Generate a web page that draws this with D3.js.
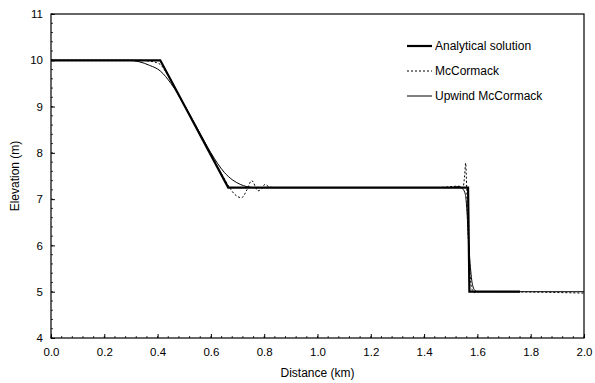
<!DOCTYPE html>
<html><head><meta charset="utf-8">
<script src="https://cdn.jsdelivr.net/npm/d3@7"></script>
<style>body{margin:0;background:#fff;}svg{display:block;font-family:"Liberation Sans",Arial,sans-serif;}</style>
</head><body><div id="chart"></div>
<script>
const xTicks = [0,0.2,0.4,0.6,0.8,1.0,1.2,1.4,1.6,1.8,2.0];
const yTicks = [4,5,6,7,8,9,10,11];
const seriesNames = ["Analytical solution","McCormack","Upwind McCormack"];

const analyticalX = [0, 0.41, 0.665, 1.565, 1.57, 1.76];
const analyticalY = [10, 10, 7.25, 7.25, 5, 5];

const mccormackX = [0, 0.33, 0.36, 0.39, 0.41, 0.44, 0.5, 0.6, 0.64, 0.67, 0.69, 0.715, 0.735, 0.753, 0.777, 0.79, 0.803, 0.82, 0.84, 1.45, 1.53, 1.545, 1.552, 1.556, 1.56, 1.565, 1.57, 1.575, 1.58, 1.59, 1.6, 1.65, 2.0];
const mccormackY = [10, 10, 9.99, 9.96, 9.91, 9.66, 9.03, 7.97, 7.55, 7.25, 7.1, 7.03, 7.2, 7.4, 7.18, 7.22, 7.32, 7.26, 7.25, 7.25, 7.28, 7.24, 7.5, 7.78, 7.2, 6.3, 5.6, 5.2, 5.05, 4.98, 5.0, 5.0, 4.97];

const upwindX = [0, 0.29, 0.33, 0.37, 0.41, 0.45, 0.5, 0.55, 0.6, 0.65, 0.68, 0.71, 0.735, 0.76, 1.5, 1.53, 1.545, 1.555, 1.56, 1.565, 1.57, 1.575, 1.58, 1.59, 1.6, 2.0];
const upwindY = [10, 10, 9.97, 9.89, 9.77, 9.5, 9.04, 8.52, 8.0, 7.58, 7.42, 7.32, 7.27, 7.25, 7.25, 7.27, 7.22, 7.1, 6.8, 6.3, 5.8, 5.45, 5.2, 5.03, 5.0, 5.0];

const W = 595, H = 383;
const svg = d3.select("#chart").append("svg").attr("width", W).attr("height", H);
const x = d3.scaleLinear().domain([0, 2]).range([51, 584]);
const y = d3.scaleLinear().domain([4, 11]).range([338, 14]);

// minor ticks
const xMinor = d3.range(0, 2.0001, 0.04);
const yMinor = d3.range(4, 11.0001, 0.2);
svg.append("g").selectAll("line").data(xMinor).join("line")
  .attr("x1", d => x(d)).attr("x2", d => x(d)).attr("y1", y(4)).attr("y2", y(4) - 2)
  .attr("stroke", "#000").attr("stroke-width", 0.8);
svg.append("g").selectAll("line").data(yMinor).join("line")
  .attr("y1", d => y(d)).attr("y2", d => y(d)).attr("x1", x(0)).attr("x2", x(0) + 2)
  .attr("stroke", "#000").attr("stroke-width", 0.8);

// axes (major ticks inside)
const xAxis = svg.append("g").attr("transform", `translate(0,${y(4)})`)
  .call(d3.axisBottom(x).tickValues(xTicks).tickFormat(d3.format(".1f")).tickSizeInner(-4).tickSizeOuter(0).tickPadding(10));
const yAxis = svg.append("g").attr("transform", `translate(${x(0)},0)`)
  .call(d3.axisLeft(y).tickValues(yTicks).tickFormat(d3.format("d")).tickSizeInner(-4).tickSizeOuter(0).tickPadding(8));
[xAxis, yAxis].forEach(g => {
  g.select(".domain").remove();
  g.selectAll("text").attr("font-size", 11.5).attr("font-family", '"Liberation Sans",Arial,sans-serif').attr("fill", "#000");
  g.selectAll("line").attr("stroke", "#000");
});

// frame
svg.append("rect").attr("x", x(0)).attr("y", y(11)).attr("width", x(2) - x(0)).attr("height", y(4) - y(11))
  .attr("fill", "none").attr("stroke", "#000").attr("stroke-width", 1.2);

// lines
const mk = (xs, ys) => xs.map((d, i) => [d, ys[i]]);
const lineLin = d3.line().x(d => x(d[0])).y(d => y(d[1]));
const lineSmooth = d3.line().x(d => x(d[0])).y(d => y(d[1])).curve(d3.curveMonotoneX);

svg.append("path").attr("d", lineSmooth(mk(upwindX, upwindY)))
  .attr("fill", "none").attr("stroke", "#000").attr("stroke-width", 1);
svg.append("path").attr("d", lineSmooth(mk(mccormackX, mccormackY)))
  .attr("fill", "none").attr("stroke", "#000").attr("stroke-width", 1).attr("stroke-dasharray", "2,2");
svg.append("path").attr("d", lineLin(mk(analyticalX, analyticalY)))
  .attr("fill", "none").attr("stroke", "#000").attr("stroke-width", 2.2);

// legend
const legY = [46, 71, 96];
const legStyles = [{w: 2.2, dash: null}, {w: 1, dash: "2,2"}, {w: 1, dash: null}];
const leg = svg.append("g");
seriesNames.forEach((name, i) => {
  leg.append("line").attr("x1", 407).attr("x2", 432).attr("y1", legY[i]).attr("y2", legY[i])
    .attr("stroke", "#000").attr("stroke-width", legStyles[i].w).attr("stroke-dasharray", legStyles[i].dash);
  leg.append("text").attr("x", 435).attr("y", legY[i] + 4).attr("font-size", 12).attr("fill", "#000").text(name);
});

// axis titles
svg.append("text").attr("x", (x(0) + x(2)) / 2).attr("y", 377).attr("text-anchor", "middle")
  .attr("font-size", 12).attr("fill", "#000").text("Distance (km)");
svg.append("text").attr("transform", `translate(19,${(y(4) + y(11)) / 2}) rotate(-90)`).attr("text-anchor", "middle")
  .attr("font-size", 12).attr("fill", "#000").text("Elevation (m)");
</script></body></html>
